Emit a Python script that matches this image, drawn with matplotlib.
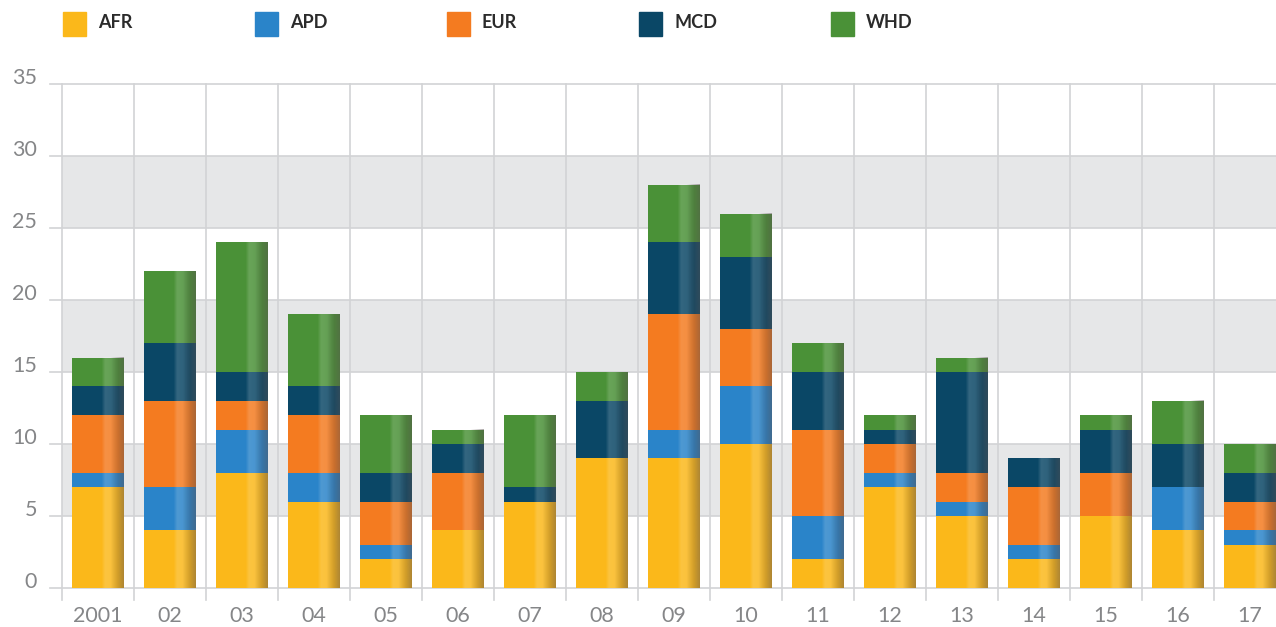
"""Stacked bars by region, 2001-17, with shaded bar faces."""

import matplotlib.pyplot as plt
import numpy as np
from matplotlib.colors import to_rgb
from matplotlib.patches import Rectangle

years = ["2001", "02", "03", "04", "05", "06", "07", "08", "09",
         "10", "11", "12", "13", "14", "15", "16", "17"]
regions = ["AFR", "APD", "EUR", "MCD", "WHD"]

afr = [7, 4, 8, 6, 2, 4, 6, 9, 9, 10, 2, 7, 5, 2, 5, 4, 3]
apd = [1, 3, 3, 2, 1, 0, 0, 0, 2, 4, 3, 1, 1, 1, 0, 3, 1]
eur = [4, 6, 2, 4, 3, 4, 0, 0, 8, 4, 6, 2, 2, 4, 3, 0, 2]
mcd = [2, 4, 2, 2, 2, 2, 1, 4, 5, 5, 4, 1, 7, 2, 3, 3, 2]
whd = [2, 5, 9, 5, 4, 1, 5, 2, 4, 3, 2, 1, 1, 0, 1, 3, 2]

colors = ["#FBB81A", "#2A84C9", "#F47B20", "#0A4766", "#4A9137"]

W, H = 1276, 627
fig = plt.figure(figsize=(W / 100, H / 100), dpi=100)
ax = fig.add_axes([62 / W, (H - 588) / H, (W - 62) / W, 504 / H])

x = np.arange(len(years))
bar_w = 0.72

# alternating bands and grid
for lo in (5, 15, 25):
    ax.axhspan(lo, lo + 5, color="#E6E7E8", zorder=0, lw=0)
grid_c = "#D2D3D5"
for yv in range(0, 36, 5):
    ax.plot([-0.5 - 12 / 72, 17], [yv, yv], color=grid_c, lw=1.2,
            zorder=1, clip_on=False)
for xv in np.arange(-0.5, 17, 1):
    ax.plot([xv, xv], [-0.85, 35], color=grid_c, lw=1.2, zorder=1,
            clip_on=False)

# stacked segments
series = [afr, apd, eur, mcd, whd]
bottom = np.zeros(len(years))
for vals, c in zip(series, colors):
    vals = np.array(vals, dtype=float)
    ax.bar(x, vals, bar_w, bottom=bottom, color=c, lw=0, zorder=2)
    bottom += vals
totals = bottom

# face shading: flat highlight band then a fade to grey-brown at the right edge
t = np.linspace(0, 1, 200)
hi = np.interp(t, [0, 0.57, 0.64, 0.76, 0.9, 1], [0, 0, 0.17, 0.15, 0, 0])
dk = np.interp(t, [0, 0.74, 0.88, 1], [0, 0, 0.25, 0.48])
hi_img = np.zeros((1, t.size, 4))
hi_img[..., :3] = 1.0
hi_img[0, :, 3] = hi
dk_img = np.zeros((1, t.size, 4))
dk_img[..., :3] = to_rgb("#5A5050")
dk_img[0, :, 3] = dk
for xi, tot in zip(x, totals):
    ext = (xi - bar_w / 2, xi + bar_w / 2, 0, tot)
    ax.imshow(hi_img, extent=ext, aspect="auto", zorder=3,
              interpolation="bilinear")
    ax.imshow(dk_img, extent=ext, aspect="auto", zorder=4,
              interpolation="bilinear")
ax.set_xlim(-0.5, (W - 62) / 72 - 0.5)
ax.set_ylim(0, 35)

for s in ax.spines.values():
    s.set_visible(False)
ax.set_xticks([])
ax.set_yticks([])

tick_c = "#858688"
font = "Lato"
for yv in range(0, 36, 5):
    ypx = 588 - yv * 14.4 - 6
    fig.text(37 / W, 1 - ypx / H, str(yv), ha="right", va="center",
             fontsize=15.5, color=tick_c, family=font)
for xi, lab in zip(x, years):
    fig.text((98 + 72 * xi) / W, 1 - 616 / H, lab, ha="center", va="center",
             fontsize=15.5, color=tick_c, family=font)

# legend row
for i, (name, c) in enumerate(zip(regions, colors)):
    x0 = 63 + 192 * i
    fig.patches.append(Rectangle((x0 / W, 1 - 36 / H), 23 / W, 24 / H,
                                 color=c, transform=fig.transFigure))
    fig.text((x0 + 35) / W, 1 - 23 / H, name, ha="left", va="center",
             fontsize=13, color="#2B2B2B", family=font, weight="bold")

fig.savefig("out.png", dpi=100)
